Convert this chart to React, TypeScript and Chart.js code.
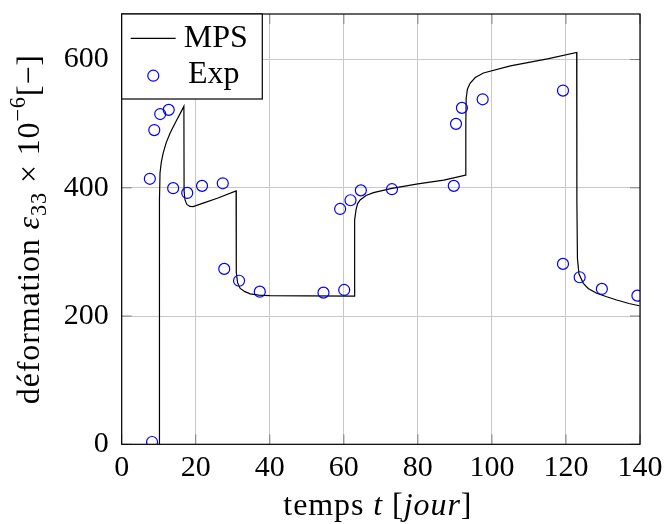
import React, { useEffect, useRef } from "react";
import { Chart, registerables } from "chart.js";
Chart.register(...registerables);

const FAMILY = '"Liberation Serif", "DejaVu Serif", serif';
const FS = 30;
const TFS = 32;

const xTicks = [0, 20, 40, 60, 80, 100, 120, 140];
const yTicks = [0, 200, 400, 600];

// Exp (measured) points
const expT = [8.2, 7.6, 8.8, 10.4, 12.7, 13.9, 17.7, 21.7, 27.3, 27.7, 31.7, 37.3, 54.5, 60.1, 59.0, 61.8, 64.6, 73.0, 89.7, 90.3, 91.9, 97.5, 119.2, 119.2, 123.7, 129.7, 139.3];
const expEps = [3.6, 414, 490, 515, 521.5, 399.4, 392, 403, 407, 273.5, 255, 238, 236.5, 240.7, 367, 380.6, 396, 397.8, 403, 499.7, 524.6, 538, 551.6, 281.3, 260.5, 242.3, 231.8];

// MPS model curve
const mpsT = [10.15, 10.2, 10.35, 10.7, 11.2, 12, 13.05, 14, 14.9, 16, 16.8, 16.85, 17.1, 17.6, 18.4, 19.3, 22, 26, 30.9, 30.95, 31.3, 32, 33.3, 34.7, 37, 40, 50, 62.8, 62.85, 63.0, 63.3, 63.7, 64.4, 66, 68, 73, 80, 87, 92.9, 92.95, 93.05, 93.4, 94.1, 95.5, 97.7, 105, 115, 122.9, 122.95, 123.1, 123.5, 124.7, 126, 128.3, 131, 133.7, 137, 139.8];
const mpsEps = [0, 380, 423, 440, 454, 470, 485, 496, 506, 518, 527, 395, 381, 374, 371, 370.7, 376, 384, 395, 268, 252, 243, 238, 234.5, 232.5, 231.8, 231.3, 231, 300, 350, 366, 375, 381, 388, 392.5, 399, 406, 412, 419.6, 500, 540, 554, 563, 572, 579, 590, 601, 611, 380, 290, 266, 251, 243, 235.6, 230, 225, 219.5, 216];

const Y_MAX = 671;

type Part = { t: string; it?: boolean; sc?: number; dy?: number };

const yTitleParts: Part[] = [
  { t: "déformation " },
  { t: "ε", it: true },
  { t: "33", sc: 0.7, dy: 0.22 },
  { t: " × 10" },
  { t: "−6", sc: 0.7, dy: -0.42 },
  { t: "[−]" },
];
const xTitleParts: Part[] = [
  { t: "temps " },
  { t: "t", it: true },
  { t: " [" },
  { t: "jour", it: true },
  { t: "]" },
];

function partFont(p: Part, size: number) {
  return `${p.it ? "italic " : ""}${Math.round(size * (p.sc || 1) * 10) / 10}px ${FAMILY}`;
}
function countChars(parts: Part[]) {
  return parts.reduce((n, p) => n + p.t.length, 0);
}
function measureParts(ctx: CanvasRenderingContext2D, parts: Part[], size: number) {
  let w = 0;
  (ctx as any).letterSpacing = "0px";
  for (const p of parts) {
    ctx.font = partFont(p, size);
    w += ctx.measureText(p.t).width;
  }
  return w;
}
// draw parts so that total width equals target (extra space spread as letter spacing)
function drawParts(ctx: CanvasRenderingContext2D, parts: Part[], size: number, target: number) {
  const w = measureParts(ctx, parts, size);
  const sp = Math.max(0, (target - w) / countChars(parts));
  let x = 0;
  ctx.textBaseline = "alphabetic";
  ctx.textAlign = "left";
  for (const p of parts) {
    ctx.font = partFont(p, size);
    (ctx as any).letterSpacing = "0px";
    const pw = ctx.measureText(p.t).width;
    let cx = x;
    for (const ch of p.t) {
      ctx.fillText(ch, cx, (p.dy || 0) * size);
      cx += ctx.measureText(ch).width + sp;
    }
    x += pw + sp * p.t.length;
  }
}

const decorPlugin = {
  id: "decor",
  afterDraw(chart: any) {
    const { ctx, chartArea: a, scales } = chart;
    ctx.save();
    // inner tick marks
    ctx.strokeStyle = "#808080";
    ctx.lineWidth = 1;
    const tl = 10;
    ctx.beginPath();
    for (const v of xTicks) {
      const px = scales.x.getPixelForValue(v);
      ctx.moveTo(px, a.bottom);
      ctx.lineTo(px, a.bottom - tl);
      ctx.moveTo(px, a.top);
      ctx.lineTo(px, a.top + tl);
    }
    for (const v of yTicks) {
      const py = scales.y.getPixelForValue(v);
      ctx.moveTo(a.left, py);
      ctx.lineTo(a.left + tl, py);
      ctx.moveTo(a.right, py);
      ctx.lineTo(a.right - tl, py);
    }
    ctx.stroke();
    // frame
    ctx.strokeStyle = "#000";
    ctx.lineWidth = 1.2;
    ctx.strokeRect(a.left, a.top, a.right - a.left, a.bottom - a.top);

    // axis titles
    ctx.fillStyle = "#000";
    const yc = (a.top + a.bottom) / 2;
    const yLen = 350;
    ctx.save();
    ctx.translate(38.5, yc + yLen / 2);
    ctx.rotate(-Math.PI / 2);
    drawParts(ctx, yTitleParts, TFS, yLen);
    ctx.restore();

    const xc = (a.left + a.right) / 2;
    const xLen = 189;
    ctx.save();
    ctx.translate(xc - 3 - xLen / 2, 515);
    drawParts(ctx, xTitleParts, TFS, xLen);
    ctx.restore();

    // legend
    (ctx as any).letterSpacing = "0px";
    const lx = a.left, ly = a.top, lw = 140.6, lh = 85;
    ctx.fillStyle = "#fff";
    ctx.fillRect(lx, ly, lw, lh);
    ctx.strokeStyle = "#000";
    ctx.lineWidth = 1.2;
    ctx.strokeRect(lx, ly, lw, lh);
    ctx.beginPath();
    ctx.lineWidth = 1.2;
    ctx.moveTo(lx + 9, ly + 24.3);
    ctx.lineTo(lx + 54, ly + 24.3);
    ctx.stroke();
    ctx.beginPath();
    ctx.strokeStyle = "#0000ff";
    ctx.arc(lx + 31.6, ly + 61.7, 5.5, 0, Math.PI * 2);
    ctx.stroke();
    ctx.fillStyle = "#000";
    ctx.font = `${TFS}px ${FAMILY}`;
    ctx.textAlign = "left";
    ctx.textBaseline = "alphabetic";
    ctx.fillText("MPS", lx + 62, ly + 33);
    ctx.fillText("Exp", lx + 66.3, ly + 69);
    ctx.restore();
  },
};

export default function App() {
  const ref = useRef<HTMLCanvasElement | null>(null);
  useEffect(() => {
    if (!ref.current) return;
    const chart = new Chart(ref.current, {
      type: "scatter",
      data: {
        datasets: [
          {
            label: "Exp",
            data: expT.map((t, i) => ({ x: t, y: expEps[i] })),
            borderColor: "#0000ff",
            backgroundColor: "rgba(0,0,0,0)",
            pointRadius: 5.5,
            pointBorderWidth: 1.2,
            showLine: false,
            order: 0,
          } as any,
          {
            label: "MPS",
            type: "line",
            data: mpsT.map((t, i) => ({ x: t, y: mpsEps[i] })),
            borderColor: "#000",
            borderWidth: 1.2,
            pointRadius: 0,
            showLine: true,
            tension: 0,
            fill: false,
            order: 1,
          } as any,
        ],
      },
      options: {
        responsive: false,
        animation: false,
        devicePixelRatio: 1,
        layout: { padding: { top: 14, right: 25, left: 0, bottom: 0 } },
        plugins: { legend: { display: false }, tooltip: { enabled: false } },
        scales: {
          x: {
            type: "linear",
            min: 0,
            max: 140,
            afterFit(s: any) {
              s.height = 79.7;
              s.paddingLeft = 0;
              s.paddingRight = 0;
            },
            afterBuildTicks(s: any) {
              s.ticks = xTicks.map((v) => ({ value: v }));
            },
            ticks: {
              font: { family: FAMILY, size: FS },
              color: "#000",
              padding: 6,
              maxRotation: 0,
            },
            grid: { color: "#c8c8c8", drawTicks: false, lineWidth: 1 },
            border: { display: false },
          },
          y: {
            type: "linear",
            min: 0,
            max: Y_MAX,
            afterFit(s: any) {
              s.width = 121.7;
              s.paddingTop = 0;
              s.paddingBottom = 0;
            },
            afterBuildTicks(s: any) {
              s.ticks = yTicks.map((v) => ({ value: v }));
            },
            ticks: {
              font: { family: FAMILY, size: FS },
              color: "#000",
              padding: 13,
            },
            grid: { color: "#c8c8c8", drawTicks: false, lineWidth: 1 },
            border: { display: false },
          },
        },
      } as any,
      plugins: [decorPlugin],
    });
    return () => chart.destroy();
  }, []);
  return (
    <div style={{ position: "fixed", left: 0, top: 0, width: 665, height: 524, background: "#fff" }}>
      <canvas ref={ref} width={665} height={524} style={{ width: 665, height: 524 }} />
    </div>
  );
}
